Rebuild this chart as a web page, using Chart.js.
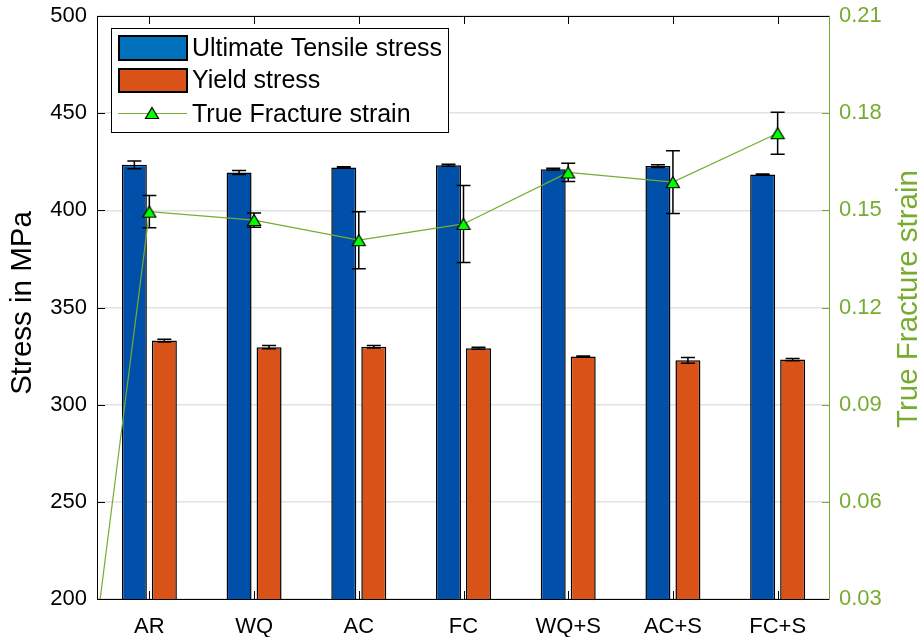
<!DOCTYPE html>
<html>
<head>
<meta charset="utf-8">
<script src="https://cdn.jsdelivr.net/npm/chart.js@4"></script>
<style>
  html, body { margin: 0; padding: 0; background: #fff; }
</style>
</head>
<body>
<canvas id="strengthChart" width="924" height="637"></canvas>
<script>
// Data
const categories = ['AR', 'WQ', 'AC', 'FC', 'WQ+S', 'AC+S', 'FC+S'];
const utsValues = [423.4, 419.5, 422.0, 423.2, 421.2, 422.8, 418.4];
const utsErrors = [2.0, 1.0, 0.4, 0.5, 0.4, 0.7, 0.3];
const yieldValues = [333.0, 329.6, 329.8, 329.0, 324.8, 322.8, 323.2];
const yieldErrors = [0.7, 0.8, 0.6, 0.5, 0.3, 1.5, 0.6];
const strainValues = [0.1496, 0.1470, 0.1408, 0.1458, 0.1617, 0.1587, 0.1738];
const strainErrors = [0.0050, 0.0022, 0.0088, 0.0119, 0.0028, 0.0097, 0.0065];
// the strain line starts from a stray point in the lower left corner
const strainStart = { x: 0.53, y: 0.03 };
const stressTicks = [200, 250, 300, 350, 400, 450, 500];
const strainTicks = [0.03, 0.06, 0.09, 0.12, 0.15, 0.18, 0.21];

const FONT = '"Liberation Sans", Arial, Helvetica, sans-serif';
const GREEN = '#77AC30';
const UTS_BAR = '#0050AA';
const UTS_KEY = '#0072BD';
const YS_COLOR = '#D95319';

// triangle marker, centred on its bounding box like MATLAB's '^'
const tri = document.createElement('canvas');
tri.width = 16; tri.height = 14;
(function () {
    const c = tri.getContext('2d');
    c.beginPath();
    c.moveTo(8, 1.5);
    c.lineTo(14.5, 12.5);
    c.lineTo(1.5, 12.5);
    c.closePath();
    c.fillStyle = '#00FF00';
    c.fill();
    c.lineWidth = 1.2;
    c.strokeStyle = '#000';
    c.stroke();
})();

// everything sits on one numeric x axis, categories at 1..7
const catPos = categories.map((c, i) => i + 1);
const utsData = utsValues.map((v, i) => ({ x: catPos[i], y: v }));
const yieldData = yieldValues.map((v, i) => ({ x: catPos[i], y: v }));
const strainData = [strainStart].concat(strainValues.map((v, i) => ({ x: catPos[i], y: v })));
const strainErrData = [null].concat(strainErrors);

function drawErrorBars(chart, index) {
    const ds = chart.data.datasets[index];
    if (!ds.errors) return;
    const meta = chart.getDatasetMeta(index);
    const yScale = chart.scales[ds.yAxisID];
    const ctx = chart.ctx;
    ctx.save();
    ctx.strokeStyle = '#000';
    ctx.lineWidth = 1.5;
    meta.data.forEach((el, i) => {
        const err = ds.errors[i];
        if (err == null) return;
        const v = ds.data[i].y;
        const yTop = yScale.getPixelForValue(v + err);
        const yBot = yScale.getPixelForValue(v - err);
        const x = el.x;
        ctx.beginPath();
        ctx.moveTo(x, yTop); ctx.lineTo(x, yBot);
        ctx.moveTo(x - 7, yTop); ctx.lineTo(x + 7, yTop);
        ctx.moveTo(x - 7, yBot); ctx.lineTo(x + 7, yBot);
        ctx.stroke();
    });
    ctx.restore();
}

const errorBars = {
    id: 'errorBars',
    afterDatasetDraw(chart, args) {
        if (chart.data.datasets[args.index].type !== 'line') drawErrorBars(chart, args.index);
    },
    beforeDatasetDraw(chart, args) {
        if (chart.data.datasets[args.index].type === 'line') drawErrorBars(chart, args.index);
    }
};

const axesFrame = {
    id: 'axesFrame',
    afterDraw(chart) {
        const { ctx, chartArea: a, scales } = chart;
        ctx.save();
        ctx.lineWidth = 1;
        // inward ticks
        ctx.strokeStyle = '#000';
        ctx.beginPath();
        stressTicks.forEach(t => {
            const y = Math.round(scales.y.getPixelForValue(t)) + 0.5;
            ctx.moveTo(a.left, y); ctx.lineTo(a.left + 8, y);
        });
        catPos.forEach(p => {
            const x = Math.round(scales.x.getPixelForValue(p)) + 0.5;
            ctx.moveTo(x, a.top); ctx.lineTo(x, a.top + 8);
            ctx.moveTo(x, a.bottom); ctx.lineTo(x, a.bottom - 8);
        });
        ctx.stroke();
        ctx.strokeStyle = GREEN;
        ctx.beginPath();
        strainTicks.forEach(t => {
            const y = Math.round(scales.y2.getPixelForValue(t)) + 0.5;
            ctx.moveTo(a.right, y); ctx.lineTo(a.right - 8, y);
        });
        ctx.stroke();
        // box
        ctx.strokeStyle = '#000';
        ctx.beginPath();
        ctx.moveTo(a.right, a.top + 0.5); ctx.lineTo(a.left + 0.5, a.top + 0.5);
        ctx.lineTo(a.left + 0.5, a.bottom + 0.5); ctx.lineTo(a.right, a.bottom + 0.5);
        ctx.stroke();
        ctx.strokeStyle = GREEN;
        ctx.beginPath();
        ctx.moveTo(a.right - 0.5, a.top); ctx.lineTo(a.right - 0.5, a.bottom + 1);
        ctx.stroke();

        // axis titles (both read bottom to top)
        ctx.font = '29.5px ' + FONT;
        ctx.textAlign = 'center';
        ctx.textBaseline = 'middle';
        ctx.fillStyle = '#000';
        ctx.save();
        ctx.translate(22.5, 303);
        ctx.rotate(-Math.PI / 2);
        ctx.fillText('Stress in MPa', 0, 0);
        ctx.restore();
        ctx.fillStyle = GREEN;
        ctx.save();
        ctx.translate(909, 299);
        ctx.rotate(-Math.PI / 2);
        ctx.fillText('True Fracture strain', 0, 0);
        ctx.restore();

        // legend box inside the plot
        const lx = a.left + 14, ly = a.top + 12;
        ctx.fillStyle = '#fff';
        ctx.fillRect(lx, ly, 337, 104);
        ctx.strokeStyle = '#000';
        ctx.lineWidth = 1;
        ctx.strokeRect(lx + 0.5, ly + 0.5, 337, 104);
        const rows = [ly + 20, ly + 52.5, ly + 85];
        ctx.lineWidth = 2;
        ctx.fillStyle = UTS_KEY;
        ctx.fillRect(lx + 8, rows[0] - 12, 68, 24);
        ctx.strokeRect(lx + 8, rows[0] - 12, 68, 24);
        ctx.fillStyle = YS_COLOR;
        ctx.fillRect(lx + 8, rows[1] - 11.5, 68, 23);
        ctx.strokeRect(lx + 8, rows[1] - 11.5, 68, 23);
        ctx.strokeStyle = GREEN;
        ctx.lineWidth = 1;
        ctx.beginPath();
        ctx.moveTo(lx + 7, rows[2] + 0.5); ctx.lineTo(lx + 76, rows[2] + 0.5);
        ctx.stroke();
        ctx.drawImage(tri, lx + 41 - 8, rows[2] - 7);
        ctx.font = '25px ' + FONT;
        ctx.textAlign = 'left';
        ctx.fillStyle = '#000';
        ctx.fillText('Ultimate Tensile stress', lx + 81, rows[0] + 1);
        ctx.fillText('Yield stress', lx + 81, rows[1] + 1);
        ctx.fillText('True Fracture strain', lx + 81, rows[2] + 2);
        ctx.restore();
    }
};

const barStyle = {
    borderColor: '#000',
    borderWidth: 1.5,
    borderSkipped: false,
    categoryPercentage: 0.573,
    barPercentage: 0.833,
    xAxisID: 'x',
    yAxisID: 'y',
    order: 1
};

// pin the vertical axes so the plot box matches the figure
function fixVertical(width) {
    return s => {
        s.width = width;
        s.paddingTop = 0;
        s.paddingBottom = 0;
    };
}

const ctx = document.getElementById('strengthChart').getContext('2d');
const strengthChart = new Chart(ctx, {
    type: 'bar',
    data: {
        datasets: [Object.assign({
            type: 'bar',
            label: 'Ultimate Tensile stress',
            data: utsData,
            errors: utsErrors,
            backgroundColor: UTS_BAR
        }, barStyle), Object.assign({
            type: 'bar',
            label: 'Yield stress',
            data: yieldData,
            errors: yieldErrors,
            backgroundColor: YS_COLOR
        }, barStyle), {
            type: 'line',
            label: 'True Fracture strain',
            data: strainData,
            errors: strainErrData,
            borderColor: GREEN,
            borderWidth: 1.2,
            pointStyle: c => c.dataIndex === 0 ? false : tri,
            pointRadius: c => c.dataIndex === 0 ? 0 : 7,
            tension: 0,
            xAxisID: 'x',
            yAxisID: 'y2',
            order: 0
        }]
    },
    options: {
        responsive: false,
        animation: false,
        layout: { padding: { top: 16, left: 0, right: 0, bottom: 0 } },
        plugins: {
            legend: { display: false },
            tooltip: { enabled: false }
        },
        scales: {
            x: {
                type: 'linear',
                offset: false,
                min: 0.5,
                max: 7.5,
                afterBuildTicks: s => { s.ticks = catPos.map(v => ({ value: v })); },
                grid: { display: false, drawTicks: false },
                border: { display: false },
                ticks: {
                    color: '#000',
                    font: { family: FONT, size: 22 },
                    padding: 15,
                    maxRotation: 0,
                    autoSkip: false,
                    callback: v => categories[catPos.indexOf(v)]
                },
                afterFit: s => { s.height = 38; s.paddingLeft = 0; s.paddingRight = 0; }
            },
            y: {
                position: 'left',
                min: 200,
                max: 500,
                afterBuildTicks: s => { s.ticks = stressTicks.map(v => ({ value: v })); },
                grid: { color: '#E2E2E2', lineWidth: 1.5, drawTicks: false },
                border: { display: false },
                ticks: { color: '#000', font: { family: FONT, size: 22 }, padding: 10 },
                afterFit: fixVertical(97)
            },
            y2: {
                position: 'right',
                min: 0.03,
                max: 0.21,
                afterBuildTicks: s => { s.ticks = strainTicks.map(v => ({ value: v })); },
                grid: { drawOnChartArea: false, drawTicks: false },
                border: { display: false },
                ticks: {
                    color: GREEN,
                    font: { family: FONT, size: 22 },
                    padding: 9,
                    callback: v => v.toFixed(2)
                },
                afterFit: fixVertical(94)
            }
        }
    },
    plugins: [errorBars, axesFrame]
});
</script>
</body>
</html>
